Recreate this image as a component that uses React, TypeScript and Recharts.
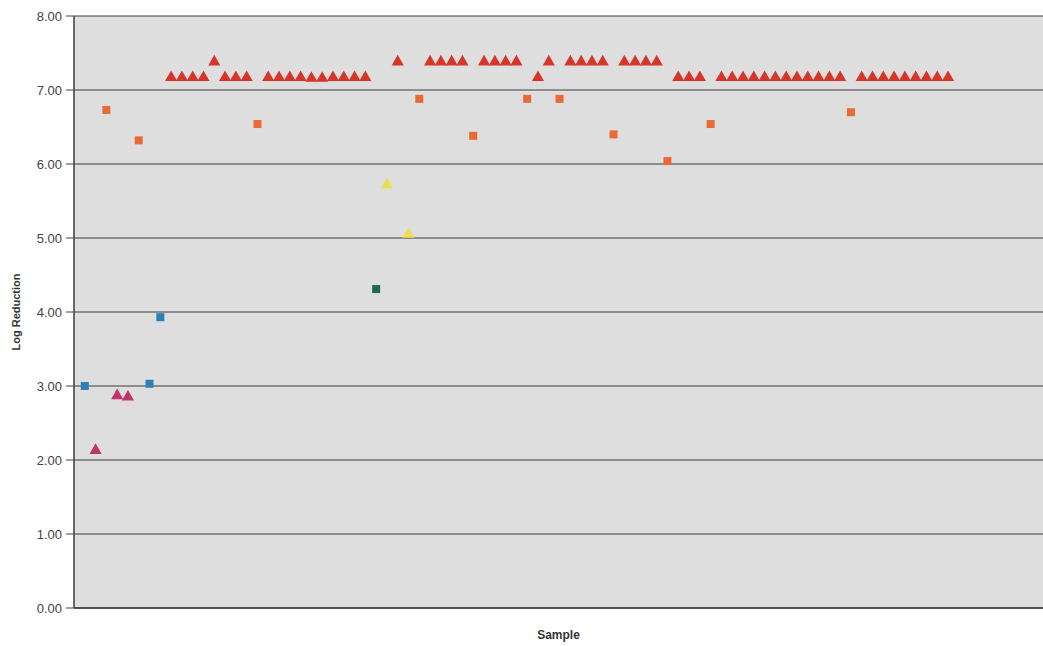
import React from 'react';
import {
  ScatterChart,
  Scatter,
  XAxis,
  YAxis,
  ZAxis,
  CartesianGrid
} from 'recharts';

// Sample numbers and log reduction values
const blueSamples = [1, 7, 8];
const blueValues = [3.0, 3.03, 3.93];

const magentaSamples = [2, 4, 5];
const magentaValues = [2.13, 2.87, 2.85];

const orangeSamples = [3, 6, 17, 32, 37, 42, 45, 50, 55, 59, 72];
const orangeValues = [6.73, 6.32, 6.54, 6.88, 6.38, 6.88, 6.88, 6.4, 6.04, 6.54, 6.7];

const yellowSamples = [29, 31];
const yellowValues = [5.72, 5.05];

const greenSamples = [28];
const greenValues = [4.31];

const redSamples = [
  9, 10, 11, 12, 13, 14, 15, 16, 18, 19, 20, 21, 22, 23, 24, 25, 26, 27, 30,
  33, 34, 35, 36, 38, 39, 40, 41, 43, 44, 46, 47, 48, 49, 51, 52, 53, 54,
  56, 57, 58, 60, 61, 62, 63, 64, 65, 66, 67, 68, 69, 70, 71,
  73, 74, 75, 76, 77, 78, 79, 80, 81
];
const redValues = [
  7.17, 7.17, 7.17, 7.17, 7.38, 7.17, 7.17, 7.17, 7.17, 7.17, 7.17, 7.17, 7.16, 7.16, 7.17, 7.17, 7.17, 7.17, 7.38,
  7.38, 7.38, 7.38, 7.38, 7.38, 7.38, 7.38, 7.38, 7.17, 7.38, 7.38, 7.38, 7.38, 7.38, 7.38, 7.38, 7.38, 7.38,
  7.17, 7.17, 7.17, 7.17, 7.17, 7.17, 7.17, 7.17, 7.17, 7.17, 7.17, 7.17, 7.17, 7.17, 7.17,
  7.17, 7.17, 7.17, 7.17, 7.17, 7.17, 7.17, 7.17, 7.17
];

const yTicks = [0, 1, 2, 3, 4, 5, 6, 7, 8];

const toPoints = (samples: number[], values: number[]) =>
  samples.map((sample, i) => ({ sample, value: values[i] }));

const font = '"Liberation Sans", Arial, sans-serif';

export default function App() {
  return (
    <div style={{ position: 'absolute', left: 0, top: 0, fontFamily: font }}>
      <ScatterChart
        width={1043}
        height={646}
        margin={{ top: 16, right: 0, bottom: 0, left: 0 }}
      >
        <CartesianGrid
          vertical={false}
          stroke="#3c3c3c"
          strokeWidth={1}
          fill="#dedede"
          fillOpacity={1}
        />
        <XAxis
          type="number"
          dataKey="sample"
          domain={[0, 89.8]}
          ticks={[]}
          tick={false}
          tickLine={false}
          height={38}
          axisLine={{ stroke: '#3a3a3a', strokeWidth: 1.5 }}
          label={{
            value: 'Sample',
            position: 'insideBottom',
            offset: 7,
            style: { fontFamily: font, fontWeight: 'bold', fontSize: 12, fill: '#333' }
          }}
        />
        <YAxis
          type="number"
          dataKey="value"
          domain={[0, 8]}
          ticks={yTicks}
          width={74}
          tickSize={8}
          tickMargin={4}
          tickFormatter={(v: number) => v.toFixed(2)}
          tick={{ fontFamily: font, fontSize: 13, fill: '#444' }}
          tickLine={{ stroke: '#444' }}
          axisLine={{ stroke: '#3a3a3a', strokeWidth: 1.5 }}
          label={{
            value: 'Log Reduction',
            angle: -90,
            position: 'insideLeft',
            offset: 16,
            style: { fontFamily: font, fontWeight: 'bold', fontSize: 11, fill: '#333', textAnchor: 'middle' }
          }}
        />
        <ZAxis zAxisId="tri" range={[70, 70]} />
        <ZAxis zAxisId="sq" range={[76, 76]} />

        {/* red triangles */}
        <Scatter
          data={toPoints(redSamples, redValues)}
          zAxisId="tri"
          shape="triangle"
          fill="#d8352a"
          isAnimationActive={false}
        />
        {/* orange squares */}
        <Scatter
          data={toPoints(orangeSamples, orangeValues)}
          zAxisId="sq"
          shape="square"
          fill="#e86a36"
          isAnimationActive={false}
        />
        {/* blue squares */}
        <Scatter
          data={toPoints(blueSamples, blueValues)}
          zAxisId="sq"
          shape="square"
          fill="#2b80b8"
          isAnimationActive={false}
        />
        {/* magenta triangles */}
        <Scatter
          data={toPoints(magentaSamples, magentaValues)}
          zAxisId="tri"
          shape="triangle"
          fill="#c2336b"
          isAnimationActive={false}
        />
        {/* yellow triangles */}
        <Scatter
          data={toPoints(yellowSamples, yellowValues)}
          zAxisId="tri"
          shape="triangle"
          fill="#eedd55"
          isAnimationActive={false}
        />
        {/* dark green square */}
        <Scatter
          data={toPoints(greenSamples, greenValues)}
          zAxisId="sq"
          shape="square"
          fill="#1d6a4c"
          isAnimationActive={false}
        />
      </ScatterChart>
    </div>
  );
}
